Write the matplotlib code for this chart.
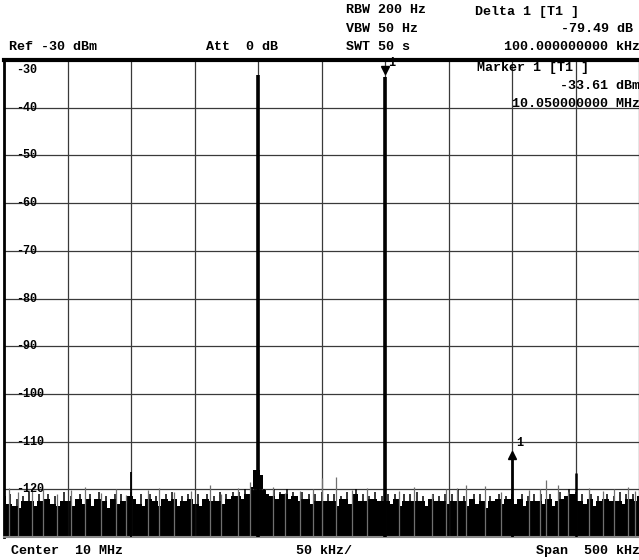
import numpy as np
import matplotlib.pyplot as plt

# sweep settings
f_start, f_stop = 9.75, 10.25   # MHz
ref_level, bottom_level = -30, -130

# trace noise floor, one value every 2.5 kHz from f_start
noise_db = [
    -121.0, -123.0, -121.0, -123.5, -122.0, -124.0, -121.5, -122.5, -120.5, -122.5,
    -123.5, -121.0, -122.5, -122.0, -121.0, -123.0, -121.5, -123.5, -122.5, -120.5,
    -122.5, -121.5, -123.5, -122.0, -121.0, -123.0, -122.0, -121.0, -123.5, -122.0,
    -120.5, -122.5, -121.5, -124.0, -122.0, -121.0, -123.0, -121.0, -122.5, -121.5,
    -120.5, -122.0, -123.0, -121.0, -123.5, -122.0, -121.0, -122.5, -121.5, -123.5,
    -122.0, -121.0, -122.5, -120.5, -122.0, -123.5, -121.5, -122.5, -121.0, -122.0,
    -123.0, -121.0, -123.5, -122.0, -121.0, -122.5, -121.5, -122.5, -120.5, -123.0,
    -121.0, -122.0, -120.5, -121.5, -120.5, -122.0, -120.0, -121.0, -119.5, -116.0,
    -111.0, -117.0, -120.0, -121.0, -121.5, -120.0, -122.0, -120.5, -121.0, -120.0,
    -122.0, -120.5, -121.5, -122.5, -120.5, -122.0, -121.0, -123.0, -121.0, -122.5,
    -120.5, -122.5, -121.0, -122.5, -121.0, -123.5, -121.5, -122.0, -120.5, -123.0,
    -121.0, -120.0, -122.5, -121.0, -122.5, -121.5, -122.0, -120.5, -122.5, -121.5,
    -122.5, -121.0, -123.0, -121.0, -122.0, -123.5, -121.0, -122.5, -121.0, -122.5,
    -120.5, -122.5, -121.5, -123.5, -122.0, -121.0, -122.5, -121.5, -122.5, -121.0,
    -123.0, -121.0, -122.5, -120.0, -122.5, -121.5, -123.5, -122.0, -121.0, -123.0,
    -121.0, -122.5, -124.0, -121.5, -122.5, -122.0, -121.0, -123.0, -121.5, -122.0,
    -121.0, -123.0, -122.0, -121.0, -123.5, -121.5, -122.5, -121.0, -122.5, -121.0,
    -123.0, -122.0, -121.0, -123.5, -122.5, -120.5, -122.0, -121.5, -120.0, -121.0,
    -120.5, -122.5, -121.0, -123.0, -122.0, -121.0, -123.5, -121.5, -122.5, -122.0,
    -121.0, -122.5, -121.5, -122.5, -120.5, -123.0, -121.0, -122.0, -121.0, -122.5,
    -121.5,
]

# discrete tones (MHz, dBm) and their drawn widths
tone_freq = [9.85, 9.95, 10.05, 10.15, 10.20]
tone_db = [-116.4, -33.1, -33.61, -113.1, -116.6]
tone_lw = [1.3, 2.6, 2.6, 2.0, 1.8]

# isolated noise spikes standing above the floor
spike_freq = [9.754, 9.761, 9.772, 9.781, 9.792, 9.803, 9.814, 9.826, 9.838, 9.846,
              9.863, 9.872, 9.884, 9.897, 9.912, 9.921, 9.934, 9.944, 9.962, 9.971,
              9.983, 9.993, 10.0, 10.0118, 10.024, 10.036, 10.061, 10.073, 10.087,
              10.098, 10.107, 10.114, 10.129, 10.141, 10.163, 10.172, 10.177, 10.186,
              10.194, 10.211, 10.222, 10.23, 10.241, 10.247]
spike_db = [-119.8, -120.5, -120.3, -119.9, -121.0, -120.2, -119.6, -120.8, -120.0, -121.2,
            -120.2, -119.7, -120.6, -120.4, -119.0, -120.9, -119.8, -118.5, -119.5, -120.7,
            -120.3, -119.9, -117.6, -117.4, -120.1, -119.8, -120.4, -119.6, -120.9,
            -120.0, -119.7, -119.0, -119.3, -120.5, -120.2, -119.9, -118.0, -119.0,
            -120.6, -119.8, -120.3, -120.0, -119.5, -120.4]

# markers
m1_freq, m1_db = 10.05, -33.61
d1_freq, d1_db = 10.15, -33.61 - 79.49

W, H = 639, 560
fig = plt.figure(figsize=(W / 100, H / 100), dpi=100)
ax = fig.add_axes([4 / W, 1 - 537 / H, 635 / W, 477 / H])

freq = np.linspace(f_start, f_stop, len(noise_db))
level = np.array(noise_db)
# body filled solid; local maxima are cut back to the higher neighbour
# and left standing as thin columns
body = np.minimum(level, np.maximum(np.roll(level, 1), np.roll(level, -1)))
ax.fill_between(freq, body, bottom_level, step='mid', color='black', lw=0, zorder=1)
ax.vlines(freq, bottom_level, level, color='black', lw=1.1, zorder=2)
ax.vlines(spike_freq, bottom_level, spike_db, color='#707070', lw=0.9, zorder=2)
ax.vlines(tone_freq, bottom_level, tone_db, color='black', lw=tone_lw, zorder=3)

# marker 1 on the 10.05 MHz carrier, delta marker on the spur
ax.plot(m1_freq, m1_db + 1.5, marker='v', ms=6, color='black', zorder=4)
ax.plot(d1_freq, d1_db + 0.3, marker='^', ms=6, color='black', zorder=4)

mono = dict(family='Liberation Mono', weight='bold', color='black')
ax.text(m1_freq + 0.0025, -30.6, '1', fontsize=8.5, va='center', **mono)
ax.text(d1_freq + 0.0035, -110.2, '1', fontsize=8.5, va='center', **mono)

ax.set_xlim(f_start, f_stop)
ax.set_ylim(bottom_level, ref_level)
ax.set_xticks(np.linspace(f_start, f_stop, 11))
ax.set_yticks(np.arange(bottom_level, ref_level + 1, 10))
ax.grid(True, color='#3a3a3a', lw=0.9)
ax.tick_params(length=0, labelbottom=False, labelleft=False)
ax.spines['top'].set_linewidth(3)
ax.spines['left'].set_linewidth(2)
ax.spines['bottom'].set_color('#8a8a8a')
ax.spines['bottom'].set_linewidth(1.5)
ax.spines['right'].set_visible(False)

# level labels inside the grid
for lev in range(-40, bottom_level + 1, -10):
    ax.text(12 / 635, lev, str(lev), transform=ax.get_yaxis_transform(),
            fontsize=8.5, va='center', ha='left', **mono)
ax.text(12 / 635, -32.1, '-30', transform=ax.get_yaxis_transform(),
        fontsize=8.5, va='center', ha='left', **mono)


def put(x, y, s, ha='left'):
    fig.text(x / W, 1 - y / H, s, fontsize=9.6, ha=ha, va='center', **mono)


put(346, 10, 'RBW 200 Hz')
put(346, 29, 'VBW 50 Hz')
put(346, 47, 'SWT 50 s')
put(475, 12, 'Delta 1 [T1 ]')
put(633, 29, '-79.49 dB', ha='right')
put(640, 47, '100.000000000 kHz', ha='right')
put(9, 47, 'Ref -30 dBm')
put(206, 47, 'Att  0 dB')
put(477, 68, 'Marker 1 [T1 ]')
put(640, 86, '-33.61 dBm', ha='right')
put(640, 104, '10.050000000 MHz', ha='right')
put(11, 551, 'Center  10 MHz')
put(296, 551, '50 kHz/')
put(640, 551, 'Span  500 kHz', ha='right')

fig.savefig('out.png', dpi=100, facecolor='white')
